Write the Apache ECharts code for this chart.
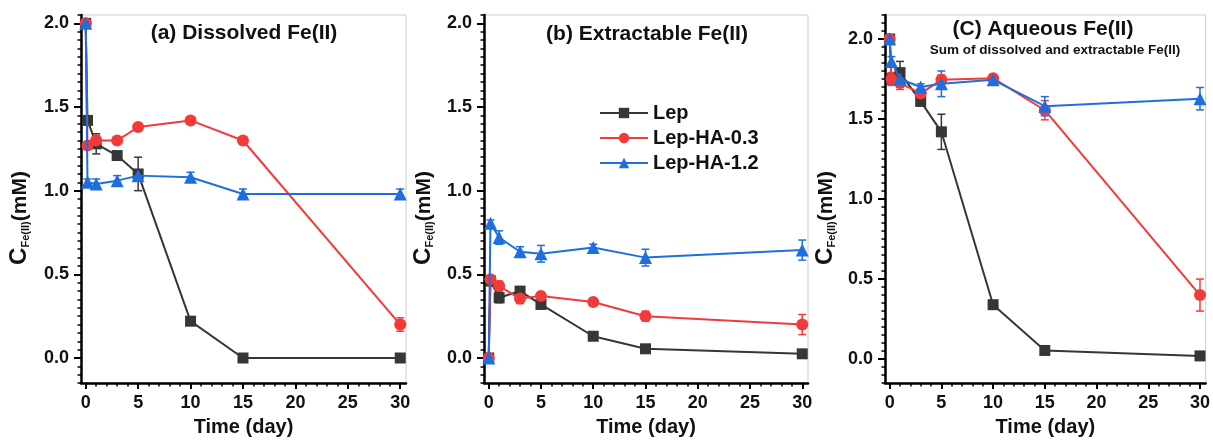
<!DOCTYPE html>
<html>
<head>
<meta charset="utf-8">
<script src="https://cdn.jsdelivr.net/npm/echarts@6/dist/echarts.min.js"></script>
<style>
html, body { margin: 0; padding: 0; background: #fff; }
#chart { width: 1213px; height: 442px; }
</style>
</head>
<body>
<div id="chart"></div>
<script>
// sampling times (day)
const days = [0, 0.17, 1, 3, 5, 10, 15, 30];
const seriesNames = ['Lep', 'Lep-HA-0.3', 'Lep-HA-1.2'];
const xTickLabels = [0, 5, 10, 15, 20, 25, 30];
const yTickLabels = [0, 0.5, 1.0, 1.5, 2.0];

// (a) dissolved Fe(II), mM
const dissolvedLep = [2.0, 1.42, 1.28, 1.21, 1.10, 0.22, 0.0, 0.0];
const dissolvedHa03 = [2.0, 1.27, 1.30, 1.30, 1.38, 1.42, 1.30, 0.20];
const dissolvedHa12 = [2.0, 1.05, 1.04, 1.06, 1.09, 1.08, 0.98, 0.98];
const dissolvedLepErr = [0, 0, 0.06, 0.02, 0.10, 0.02, 0, 0];
const dissolvedHa03Err = [0, 0.02, 0.03, 0.02, 0.02, 0.02, 0.02, 0.04];
const dissolvedHa12Err = [0, 0.02, 0.03, 0.03, 0.03, 0.03, 0.03, 0.03];

// (b) extractable Fe(II), mM
const extractLep = [0, 0.46, 0.36, 0.40, 0.32, 0.13, 0.055, 0.025];
const extractHa03 = [0, 0.47, 0.43, 0.355, 0.37, 0.335, 0.25, 0.20];
const extractHa12 = [0, 0.805, 0.72, 0.635, 0.623, 0.66, 0.60, 0.645];
const extractLepErr = [0, 0.02, 0.03, 0.02, 0.02, 0.02, 0.01, 0.01];
const extractHa03Err = [0, 0.02, 0.03, 0.03, 0.02, 0.02, 0.03, 0.06];
const extractHa12Err = [0, 0.02, 0.04, 0.03, 0.05, 0.02, 0.05, 0.06];

// (C) aqueous Fe(II) = dissolved + extractable, mM
const aqueousLep = [2.0, 1.75, 1.79, 1.61, 1.42, 0.34, 0.054, 0.02];
const aqueousHa03 = [2.0, 1.75, 1.725, 1.66, 1.745, 1.755, 1.555, 0.40];
const aqueousHa12 = [2.0, 1.86, 1.75, 1.70, 1.72, 1.745, 1.58, 1.627];
const aqueousLepErr = [0, 0.03, 0.07, 0.02, 0.11, 0.02, 0.02, 0.02];
const aqueousHa03Err = [0, 0.04, 0.04, 0.03, 0.03, 0.02, 0.06, 0.10];
const aqueousHa12Err = [0, 0.03, 0.03, 0.02, 0.08, 0.03, 0.06, 0.07];

const COLORS = ['#363636', '#f23a3a', '#1e6fdd'];
const SYMBOLS = ['rect', 'circle', 'triangle'];
const SYMBOL_SIZES = [11, 12, 13];
const FONT = '"Liberation Sans", Arial, Helvetica, sans-serif';

const xMinor = [];
for (let v = 0; v <= 30; v += 1) xMinor.push(v);
const yMinor = [];
for (let k = -3; k <= 43; k++) yMinor.push(+(k * 0.05).toFixed(2));

const panels = [
    {
        left: 81, width: 325, yMax: 2.05,
        values: [dissolvedLep, dissolvedHa03, dissolvedHa12],
        errors: [dissolvedLepErr, dissolvedHa03Err, dissolvedHa12Err],
        nameX: 19
    },
    {
        left: 484, width: 324, yMax: 2.05,
        values: [extractLep, extractHa03, extractHa12],
        errors: [extractLepErr, extractHa03Err, extractHa12Err],
        nameX: 423
    },
    {
        left: 885, width: 326, yMax: 2.15,
        values: [aqueousLep, aqueousHa03, aqueousHa12],
        errors: [aqueousLepErr, aqueousHa03Err, aqueousHa12Err],
        nameX: 825
    }
];

const tickFont = { color: '#111', fontSize: 18, fontWeight: 'bold', fontFamily: FONT };

const grid = [], xAxis = [], yAxis = [], series = [], graphic = [];

panels.forEach((p, i) => {
    grid.push({
        left: p.left, top: 15, width: p.width, height: 372,
        show: true, borderColor: '#cdcdcd', borderWidth: 1, backgroundColor: 'transparent'
    });

    xAxis.push({
        type: 'value', gridIndex: i, position: 'bottom', min: -0.45, max: 30.55,
        axisLine: { show: true, onZero: false, lineStyle: { color: '#000', width: 2.5 } },
        axisTick: { show: true, customValues: xTickLabels, length: 6, lineStyle: { color: '#000', width: 2 } },
        axisLabel: { customValues: xTickLabels, margin: 11, ...tickFont },
        splitLine: { show: false },
        name: 'Time (day)', nameLocation: 'middle', nameGap: 31,
        nameTextStyle: { color: '#111', fontSize: 20, fontWeight: 'bold', fontFamily: FONT }
    });
    xAxis.push({
        type: 'value', gridIndex: i, position: 'bottom', min: -0.45, max: 30.55,
        axisLine: { show: false, onZero: false },
        axisTick: { show: true, customValues: xMinor, length: 3.5, lineStyle: { color: '#000', width: 1.5 } },
        axisLabel: { show: false },
        splitLine: { show: false }
    });

    yAxis.push({
        type: 'value', gridIndex: i, position: 'left', min: -0.15, max: p.yMax,
        axisLine: { show: true, onZero: false, lineStyle: { color: '#000', width: 2.5 } },
        axisTick: { show: true, customValues: yTickLabels, length: 7, lineStyle: { color: '#000', width: 2 } },
        axisLabel: { customValues: yTickLabels, margin: 12, formatter: v => v.toFixed(1), ...tickFont },
        splitLine: { show: false }
    });
    yAxis.push({
        type: 'value', gridIndex: i, position: 'left', min: -0.15, max: p.yMax,
        axisLine: { show: false, onZero: false },
        axisTick: { show: true, customValues: yMinor, length: 3.5, lineStyle: { color: '#000', width: 1.5 } },
        axisLabel: { show: false },
        splitLine: { show: false }
    });

    p.values.forEach((vals, j) => {
        const color = COLORS[j];
        series.push({
            type: 'custom',
            name: 'err-' + i + '-' + j,
            xAxisIndex: i * 2, yAxisIndex: i * 2,
            z: 2 + j,
            silent: true,
            data: days.map((d, k) => [d, vals[k], p.errors[j][k]]),
            renderItem: (params, api) => {
                const x = api.value(0), y = api.value(1), e = api.value(2);
                if (!e) return null;
                const lo = api.coord([x, y - e]);
                const hi = api.coord([x, y + e]);
                const cap = 4;
                const ls = { stroke: color, lineWidth: 1.5 };
                return {
                    type: 'group',
                    children: [
                        { type: 'line', shape: { x1: lo[0], y1: lo[1], x2: hi[0], y2: hi[1] }, style: ls },
                        { type: 'line', shape: { x1: lo[0] - cap, y1: lo[1], x2: lo[0] + cap, y2: lo[1] }, style: ls },
                        { type: 'line', shape: { x1: hi[0] - cap, y1: hi[1], x2: hi[0] + cap, y2: hi[1] }, style: ls }
                    ]
                };
            }
        });
        series.push({
            type: 'line',
            name: seriesNames[j],
            xAxisIndex: i * 2, yAxisIndex: i * 2,
            z: 5 + j,
            data: days.map((d, k) => [d, vals[k]]),
            symbol: SYMBOLS[j],
            symbolSize: SYMBOL_SIZES[j],
            showAllSymbol: true,
            lineStyle: { color, width: 2 },
            itemStyle: { color, opacity: 1 }
        });
    });

    graphic.push({
        type: 'text',
        x: p.nameX, y: 218,
        rotation: Math.PI / 2,
        style: {
            text: '{c|C}{s|Fe(II)}{u|(mM)}',
            align: 'center', verticalAlign: 'middle',
            fill: '#111',
            rich: {
                c: { fontSize: 24, fontWeight: 'bold', fontFamily: FONT, fill: '#111', verticalAlign: 'bottom' },
                s: { fontSize: 11, fontWeight: 'bold', fontFamily: FONT, fill: '#111', verticalAlign: 'bottom', padding: [8, 0, 0, 0] },
                u: { fontSize: 21, fontWeight: 'bold', fontFamily: FONT, fill: '#111', verticalAlign: 'bottom' }
            }
        }
    });
});

const titles = [
    { text: '(a) Dissolved Fe(II)', x: 244, y: 33, size: 21 },
    { text: '(b) Extractable Fe(II)', x: 647, y: 34, size: 21 },
    { text: '(C) Aqueous Fe(II)', x: 1043, y: 29, size: 21 },
    { text: 'Sum of dissolved and extractable Fe(II)', x: 1055, y: 50, size: 13.5 }
];
titles.forEach(t => {
    graphic.push({
        type: 'text', x: t.x, y: t.y,
        style: {
            text: t.text, align: 'center', verticalAlign: 'middle',
            font: 'bold ' + t.size + 'px ' + FONT, fill: '#111'
        }
    });
});

const chart = echarts.init(document.getElementById('chart'));
chart.setOption({
    animation: false,
    backgroundColor: '#fff',
    grid, xAxis, yAxis, series, graphic,
    legend: {
        data: seriesNames,
        orient: 'vertical',
        left: 599, top: 103,
        padding: 0,
        itemWidth: 48, itemHeight: 13, itemGap: 5,
        textStyle: { color: '#111', fontSize: 20, fontWeight: 'bold', fontFamily: FONT }
    }
});
</script>
</body>
</html>
